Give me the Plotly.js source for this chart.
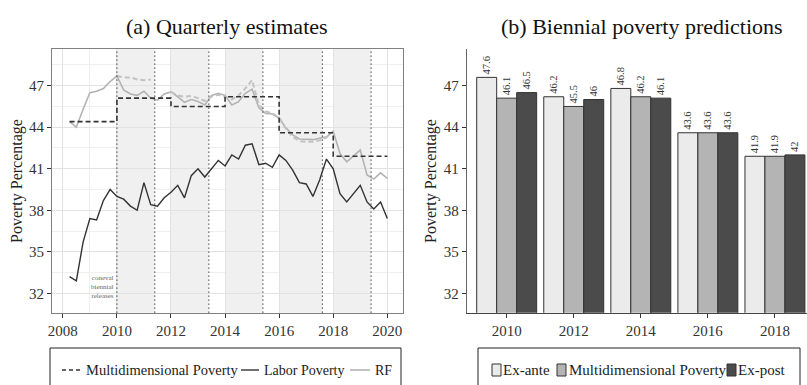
<!DOCTYPE html>
<html>
<head>
<meta charset="utf-8">
<script src="https://cdn.plot.ly/plotly-3.0.1.min.js"></script>
<style>html,body{margin:0;padding:0;background:#fff;}#chart{width:807px;height:385px;}</style>
</head>
<body>
<div id="chart"></div>
<script>
// ---------- Panel (a): quarterly estimates ----------
const quarters = [2008.25,2008.5,2008.75,2009,2009.25,2009.5,2009.75,2010,2010.25,2010.5,2010.75,2011,2011.25,2011.5,2011.75,2012,2012.25,2012.5,2012.75,2013,2013.25,2013.5,2013.75,2014,2014.25,2014.5,2014.75,2015,2015.25,2015.5,2015.75,2016,2016.25,2016.5,2016.75,2017,2017.25,2017.5,2017.75,2018,2018.25,2018.5,2018.75,2019,2019.25,2019.5,2019.75,2020];
const laborPoverty = [33.2,32.9,35.7,37.4,37.3,38.7,39.5,39.0,38.8,38.3,38.0,40.0,38.4,38.3,38.9,39.3,39.8,38.9,40.5,41.0,40.4,41.0,41.6,41.2,42.0,41.7,42.7,42.8,41.3,41.4,41.1,42.0,41.6,40.9,40.0,39.9,39.0,40.2,41.7,41.0,39.2,38.6,39.2,39.8,38.6,38.1,38.6,37.4];
const rf = [44.4,44.0,45.3,46.5,46.6,46.8,47.3,47.7,46.7,46.4,46.3,46.6,46.1,45.95,46.4,46.55,46.2,45.8,46.0,45.85,45.6,46.3,46.45,46.3,45.6,45.85,46.45,46.75,45.4,45.0,44.95,44.65,43.95,43.45,43.15,43.1,43.1,43.2,43.3,43.7,42.1,41.5,41.9,42.35,40.55,40.25,40.7,40.3];
const rfDashed = [null,null,null,null,null,null,null,47.7,47.6,47.6,47.45,47.4,47.45,null,null,46.55,46.3,46.2,46.25,46.1,45.9,46.2,46.35,46.2,46.0,46.3,46.8,47.4,45.6,45.15,45.0,44.7,43.9,43.3,43.0,42.95,42.95,43.05,43.25,43.7,null,null,null,null,null,null,null,null];
const mpYears = [2008.25,2010,2012,2014,2016,2018,2020];
const mpValues = [44.4,46.1,45.5,46.2,43.6,41.9,41.9];
const shadeStart = [2010,2012,2014,2016,2018];
const releases = [2010.0,2011.4,2013.4,2015.4,2017.6,2019.4];
const xTickYears = [2008,2010,2012,2014,2016,2018,2020];
const yTickVals = [32,35,38,41,44,47];

// ---------- Panel (b): biennial predictions ----------
const bienYears = ['2010','2012','2014','2016','2018'];
const exAnte = [47.6,46.2,46.8,43.6,41.9];
const multiDim = [46.1,45.5,46.2,43.6,41.9];
const exPost = [46.5,46.0,46.1,43.6,42.0];

const serif = 'Liberation Serif, Times New Roman, serif';
const W = 807, H = 385;
const px = x => x / W;
const py = y => 1 - y / H;

const traces = [
  {x: quarters, y: rf, type: 'scatter', mode: 'lines', line: {color: '#b3b3b3', width: 1.6}, xaxis: 'x', yaxis: 'y', name: 'RF'},
  {x: quarters, y: rfDashed, type: 'scatter', mode: 'lines', line: {color: '#c2c2c2', width: 2, dash: '5px,3px'}, xaxis: 'x', yaxis: 'y', name: 'RF (dashed)'},
  {x: quarters, y: laborPoverty, type: 'scatter', mode: 'lines', line: {color: '#333333', width: 1.4}, xaxis: 'x', yaxis: 'y', name: 'Labor Poverty'},
  {x: mpYears, y: mpValues, type: 'scatter', mode: 'lines', line: {color: '#333333', width: 1.6, dash: '5px,3px', shape: 'hv'}, xaxis: 'x', yaxis: 'y', name: 'Multidimensional Poverty'},
];
const barSpecs = [
  {name: 'Ex-ante', vals: exAnte, color: '#ebebeb'},
  {name: 'Multidimensional Poverty', vals: multiDim, color: '#b4b4b4'},
  {name: 'Ex-post', vals: exPost, color: '#4b4b4b'},
];
barSpecs.forEach(s => traces.push({
  x: bienYears, y: s.vals, type: 'bar', name: s.name, xaxis: 'x2', yaxis: 'y2',
  marker: {color: s.color, line: {color: '#333333', width: 1}},
  text: s.vals.map(v => String(v)), textposition: 'outside', textangle: -90,
  textfont: {family: serif, size: 10.5, color: '#333333'}, cliponaxis: false, constraintext: 'none'
}));

const shapes = [];
shadeStart.forEach((s, i) => shapes.push({type: 'rect', xref: 'x', yref: 'y domain', x0: s, x1: releases[i + 1], y0: 0, y1: 1, fillcolor: 'rgba(0,0,0,0.06)', line: {width: 0}, layer: 'below'}));
releases.forEach(r => shapes.push({type: 'line', xref: 'x', yref: 'y domain', x0: r, x1: r, y0: 0, y1: 1, line: {color: '#444444', width: 1.2, dash: '1.2px,2.8px'}, layer: 'above'}));
// legend boxes
shapes.push({type: 'rect', xref: 'paper', yref: 'paper', x0: px(50), x1: px(401), y0: py(348), y1: py(400), line: {color: '#222', width: 1}, fillcolor: 'rgba(0,0,0,0)'});
shapes.push({type: 'rect', xref: 'paper', yref: 'paper', x0: px(478), x1: px(800), y0: py(348), y1: py(400), line: {color: '#222', width: 1}, fillcolor: 'rgba(0,0,0,0)'});
// legend samples (left)
const ly = 370;
shapes.push({type: 'line', xref: 'paper', yref: 'paper', x0: px(62), x1: px(80), y0: py(ly), y1: py(ly), line: {color: '#333', width: 1.4, dash: '4px,3px'}});
shapes.push({type: 'line', xref: 'paper', yref: 'paper', x0: px(241), x1: px(259), y0: py(ly), y1: py(ly), line: {color: '#333', width: 1.4}});
shapes.push({type: 'line', xref: 'paper', yref: 'paper', x0: px(350), x1: px(370), y0: py(ly), y1: py(ly), line: {color: '#b3b3b3', width: 1.6}});
// legend swatches (right)
[[492, '#ebebeb'], [557, '#b4b4b4'], [727, '#4b4b4b']].forEach(([x, c]) => shapes.push({type: 'rect', xref: 'paper', yref: 'paper', x0: px(x), x1: px(x + 9), y0: py(376), y1: py(364), fillcolor: c, line: {color: '#333', width: 1}}));

const ann = (text, x, y, opts) => Object.assign({text: text, x: x, y: y, xref: 'paper', yref: 'paper', xanchor: 'center', yanchor: 'middle', showarrow: false}, opts);
const annotations = [
  ann('(a) Quarterly estimates', px(227), py(26), {font: {family: serif, size: 22, color: '#111'}}),
  ann('(b) Biennial poverty predictions', px(642), py(26), {font: {family: serif, size: 22, color: '#111'}}),
  ann('Poverty Percentage', px(17), py(181), {textangle: -90, font: {family: serif, size: 16, color: '#222'}}),
  ann('Poverty Percentage', px(431), py(181), {textangle: -90, font: {family: serif, size: 16, color: '#222'}}),
  {text: 'coneval<br>biennial<br>releases', x: 2009.95, y: 32.45, xref: 'x', yref: 'y', xanchor: 'right', yanchor: 'middle', align: 'right', showarrow: false, font: {family: serif, size: 7, color: '#666'}},
  // legend texts
  ann('Multidimensional Poverty', px(84), py(ly), {xanchor: 'left', font: {family: serif, size: 14.5, color: '#222'}}),
  ann('Labor Poverty', px(262), py(ly), {xanchor: 'left', font: {family: serif, size: 14, color: '#222'}}),
  ann('RF', px(373), py(ly), {xanchor: 'left', font: {family: serif, size: 14, color: '#222'}}),
  ann('Ex-ante', px(501), py(ly), {xanchor: 'left', font: {family: serif, size: 15, color: '#222'}}),
  ann('Multidimensional Poverty', px(567), py(ly), {xanchor: 'left', font: {family: serif, size: 15, color: '#222'}}),
  ann('Ex-post', px(736), py(ly), {xanchor: 'left', font: {family: serif, size: 15, color: '#222'}}),
];

const yDom = [py(312.7), py(49)];
const tickFont = {family: serif, size: 15, color: '#333'};
const layout = {
  width: W, height: H, margin: {l: 0, r: 0, t: 0, b: 0},
  paper_bgcolor: '#ffffff', plot_bgcolor: '#ffffff',
  font: {family: serif, size: 15, color: '#333'},
  showlegend: false,
  barmode: 'group', bargap: 0.106, bargroupgap: 0,
  xaxis: {domain: [px(52), px(403)], range: [2007.6, 2020.58], tickmode: 'array', tickvals: xTickYears,
    ticks: 'outside', ticklen: 4, tickcolor: '#333', tickfont: tickFont,
    showline: true, mirror: true, linecolor: '#808080', linewidth: 1,
    showgrid: true, gridcolor: '#e2e2e2', gridwidth: 1, zeroline: false,
    minor: {tickmode: 'array', tickvals: [2009, 2011, 2013, 2015, 2017, 2019], showgrid: true, gridcolor: '#efefef', gridwidth: 1}},
  yaxis: {domain: yDom, range: [30.6, 49.65], tickmode: 'array', tickvals: yTickVals,
    ticks: 'outside', ticklen: 4, tickcolor: '#333', tickfont: tickFont,
    showline: true, mirror: true, linecolor: '#808080', linewidth: 1,
    showgrid: true, gridcolor: '#e2e2e2', gridwidth: 1, zeroline: false,
    minor: {tickmode: 'array', tickvals: [30.5, 33.5, 36.5, 39.5, 42.5, 45.5, 48.5], showgrid: true, gridcolor: '#efefef', gridwidth: 1}},
  xaxis2: {domain: [px(466.7), 1], anchor: 'y2', type: 'category', range: [-0.596, 4.478],
    ticks: 'outside', ticklen: 4, tickcolor: '#333', tickfont: tickFont,
    showline: true, linecolor: '#444', linewidth: 1, showgrid: false, zeroline: false},
  yaxis2: {domain: yDom, anchor: 'x2', range: [30.6, 49.65], tickmode: 'array', tickvals: yTickVals,
    ticks: 'outside', ticklen: 4, tickcolor: '#333', tickfont: tickFont,
    showline: true, linecolor: '#666', linewidth: 1, showgrid: false, zeroline: false},
  shapes: shapes,
  annotations: annotations,
};

Plotly.newPlot('chart', traces, layout, {displayModeBar: false, staticPlot: true});
</script>
</body>
</html>
